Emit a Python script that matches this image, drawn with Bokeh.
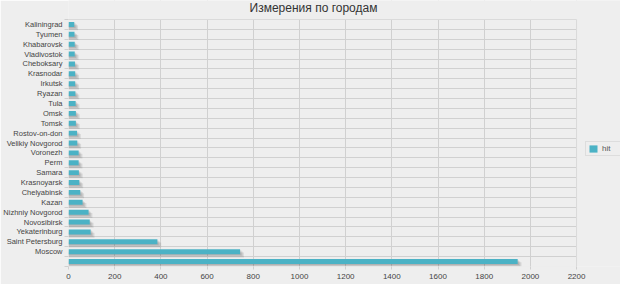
import numpy as np
from bokeh.plotting import figure
from bokeh.models import (ColumnDataSource, Range1d, FixedTicker, Legend,
                          LegendItem, BoxAnnotation, Label)
from bokeh.transform import dodge
from bokeh.embed import file_html
from bokeh.resources import INLINE

title_text = "Измерения по городам"
series_name = "hit"
cities = ["Kaliningrad", "Tyumen", "Khabarovsk", "Vladivostok", "Cheboksary",
          "Krasnodar", "Irkutsk", "Ryazan", "Tula", "Omsk", "Tomsk",
          "Rostov-on-don", "Velikiy Novgorod", "Voronezh", "Perm", "Samara",
          "Krasnoyarsk", "Chelyabinsk", "Kazan", "Nizhniy Novgorod",
          "Novosibirsk", "Yekaterinburg", "Saint Petersburg", "Moscow"]
hits = [25, 26, 27, 27, 28, 29, 29, 30, 31, 32, 32, 37, 38, 44, 44, 45,
        47, 51, 61, 87, 92, 96, 385, 743, 1945]
x_ticks = [0, 200, 400, 600, 800, 1000, 1200, 1400, 1600, 1800, 2000, 2200]

labels = cities + [""]
n = len(hits)
pos = [n - i - 0.5 for i in range(n)]
src = ColumnDataSource(dict(y=pos, hits=hits, label=labels))

FONT = "Liberation Sans"
BG = "#eeeeee"
GRID = "#d0d0d0"

X_MAX = x_ticks[-1]
# drawing frame spans x=67..620, y=0..266; the plot area proper is
# x=67..576, y=19..266 (title and legend live in the rest of the frame)
x_end = X_MAX * (620 - 67) / (576 - 67)
y_end = n * 266 / (266 - 19)

p = figure(width=620, height=284, output_backend="svg", toolbar_location=None,
           x_range=Range1d(0, x_end), y_range=Range1d(0, y_end),
           min_border_left=67, min_border_right=0, min_border_top=0,
           min_border_bottom=18, background_fill_color=BG,
           border_fill_color=BG, outline_line_color=None)

# shadows
for k in (3, 2, 1):
    p.hbar(y=dodge("y", -0.11 * k), right=dodge("hits", 5.5 * k), left=0,
           height=0.5, source=src, fill_color="#000000", fill_alpha=0.09,
           line_color=None)
bars = p.hbar(y="y", right="hits", left=0, height=0.5, source=src,
              fill_color="#4bb2c5", line_color=None)

p.xaxis.ticker = FixedTicker(ticks=x_ticks)
p.xaxis.axis_line_color = None
p.xaxis.major_tick_line_color = GRID
p.xaxis.major_tick_out = 3
p.xaxis.major_tick_in = 0
p.xaxis.minor_tick_line_color = None
p.xaxis.major_label_text_font = FONT
p.xaxis.major_label_text_font_size = "8px"
p.xaxis.major_label_text_color = "#444444"
p.xaxis.major_label_standoff = 4

bounds = list(range(0, n + 1))
p.yaxis.ticker = FixedTicker(ticks=pos, minor_ticks=bounds)
p.yaxis.major_label_overrides = {float(y): l for y, l in zip(pos, labels)}
p.yaxis.axis_line_color = None
p.yaxis.major_tick_line_color = None
p.yaxis.major_tick_out = 0
p.yaxis.major_tick_in = 0
p.yaxis.minor_tick_line_color = GRID
p.yaxis.minor_tick_out = 4
p.yaxis.minor_tick_in = 0
p.yaxis.major_label_text_font = FONT
p.yaxis.major_label_text_font_size = "7.5px"
p.yaxis.major_label_text_color = "#444444"
p.yaxis.major_label_standoff = 2

p.xgrid.grid_line_color = GRID
p.ygrid.ticker = FixedTicker(ticks=bounds)
p.ygrid.grid_line_color = GRID

# blank out the strips right of and above the plot area, then outline it
p.add_layout(BoxAnnotation(left=X_MAX, fill_color=BG, fill_alpha=1.0,
                           line_color=None))
p.add_layout(BoxAnnotation(bottom=n, fill_color=BG, fill_alpha=1.0,
                           line_color=None))
p.add_layout(BoxAnnotation(left=0, right=X_MAX, bottom=0, top=n,
                           fill_alpha=0.0, line_color=GRID, line_width=1))

p.add_layout(Label(x=312 - 67, y=266 - 7, x_units="screen", y_units="screen",
                   text=title_text, text_align="center",
                   text_baseline="middle", text_font=FONT,
                   text_font_size="12px", text_color="#333333"))

legend = Legend(items=[LegendItem(label=series_name, renderers=[bars])],
                location=(517, 110), orientation="vertical",
                glyph_width=10, glyph_height=9, label_standoff=4,
                padding=2, margin=0, spacing=0,
                label_text_font=FONT, label_text_font_size="8px",
                label_text_color="#555555", label_height=9,
                border_line_color="#cccccc", background_fill_color=BG,
                background_fill_alpha=1.0)
p.add_layout(legend, "center")

open("out.html", "w").write(file_html(p, INLINE))
